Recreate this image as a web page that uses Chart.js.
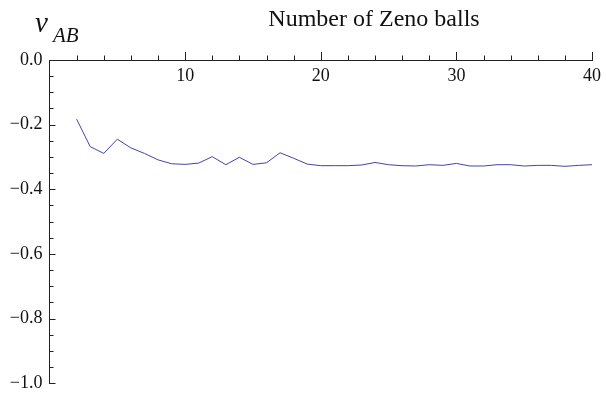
<!DOCTYPE html>
<html>
<head>
<meta charset="utf-8">
<script src="https://cdn.jsdelivr.net/npm/chart.js@4"></script>
<style>
  html, body { margin: 0; padding: 0; background: #fff; }
  #wrap { width: 606px; height: 401px; }
</style>
</head>
<body>
<div id="wrap"><canvas id="zenoChart"></canvas></div>
<script>
// number of Zeno balls
const balls = [2, 3, 4, 5, 6, 7, 8, 9, 10, 11, 12, 13, 14, 15, 16, 17, 18, 19, 20, 21,
  22, 23, 24, 25, 26, 27, 28, 29, 30, 31, 32, 33, 34, 35, 36, 37, 38, 39, 40];
// v_AB
const vAB = [-0.183, -0.268, -0.289, -0.245, -0.272, -0.289, -0.309, -0.321, -0.323, -0.319,
  -0.299, -0.324, -0.301, -0.323, -0.318, -0.287, -0.304, -0.322, -0.327, -0.327,
  -0.327, -0.325, -0.317, -0.324, -0.327, -0.328, -0.324, -0.326, -0.320, -0.328,
  -0.328, -0.324, -0.324, -0.328, -0.326, -0.326, -0.329, -0.326, -0.324];
const xTicks = [10, 20, 30, 40];
const yTicks = [0, -0.2, -0.4, -0.6, -0.8, -1.0];

const serif = '"Liberation Serif", "Times New Roman", "DejaVu Serif", serif';
const axisColor = '#222';

const fmt = v => (v < 0 ? '\u2212' : '') + Math.abs(v).toFixed(1);

// tick marks in the Mathematica style (major + minor), drawn from the scales
const tickMarks = {
  id: 'tickMarks',
  afterDraw(chart) {
    const { ctx, scales: { x, y } } = chart;
    const y0 = y.getPixelForValue(0);
    const x0 = x.getPixelForValue(0);
    ctx.save();
    ctx.strokeStyle = axisColor;
    ctx.lineWidth = 1;
    ctx.beginPath();
    for (let v = 2; v <= 40; v += 2) {
      const px = Math.round(x.getPixelForValue(v)) + 0.5;
      const len = v % 10 === 0 ? 8 : 4.5;
      ctx.moveTo(px, y0);
      ctx.lineTo(px, y0 - len);
    }
    for (let i = 1; i <= 20; i++) {
      const v = -i * 0.05;
      const py = Math.round(y.getPixelForValue(v)) + 0.5;
      const len = i % 4 === 0 ? 6 : 4;
      ctx.moveTo(x0, py);
      ctx.lineTo(x0 + len, py);
    }
    ctx.stroke();

    // axis labels
    ctx.fillStyle = '#111';
    ctx.textBaseline = 'alphabetic';
    ctx.textAlign = 'center';
    ctx.font = '24px ' + serif;
    ctx.fillText('Number of Zeno balls', 374, 26);
    ctx.textAlign = 'left';
    ctx.font = 'italic 29px ' + serif;
    ctx.fillText('v', 35, 32);
    ctx.font = 'italic 21px ' + serif;
    ctx.fillText('AB', 53, 42);
    ctx.restore();
  }
};

function draw() {
  new Chart(document.getElementById('zenoChart'), {
    type: 'line',
    data: {
      datasets: [{
        data: balls.map((b, i) => ({ x: b, y: vAB[i] })),
        borderColor: '#4444a8',
        borderWidth: 1,
        pointRadius: 0,
        tension: 0,
        fill: false
      }]
    },
    options: {
      responsive: true,
      maintainAspectRatio: false,
      animation: false,
      layout: { padding: { top: 60, right: 12, bottom: 8, left: 0 } },
      plugins: { legend: { display: false }, tooltip: { enabled: false } },
      scales: {
        x: {
          type: 'linear',
          min: 0,
          max: 40,
          position: { y: 0 },
          afterBuildTicks: s => { s.ticks = xTicks.map(v => ({ value: v })); },
          ticks: {
            color: '#111',
            font: { family: serif, size: 18 },
            padding: 5,
            maxRotation: 0
          },
          grid: { display: false, drawTicks: false },
          border: { display: true, color: axisColor, width: 1 }
        },
        y: {
          type: 'linear',
          min: -1,
          max: 0,
          afterBuildTicks: s => { s.ticks = yTicks.map(v => ({ value: v })); },
          afterFit: s => { s.width = 49.5; },
          ticks: {
            color: '#111',
            font: { family: serif, size: 18 },
            padding: 7,
            callback: v => fmt(v)
          },
          grid: { display: false, drawTicks: false },
          border: { display: true, color: axisColor, width: 1 }
        }
      }
    },
    plugins: [tickMarks]
  });
}

Promise.all([
  document.fonts.load('17px "Liberation Serif"'),
  document.fonts.load('italic 17px "Liberation Serif"')
]).then(draw, draw);
</script>
</body>
</html>
